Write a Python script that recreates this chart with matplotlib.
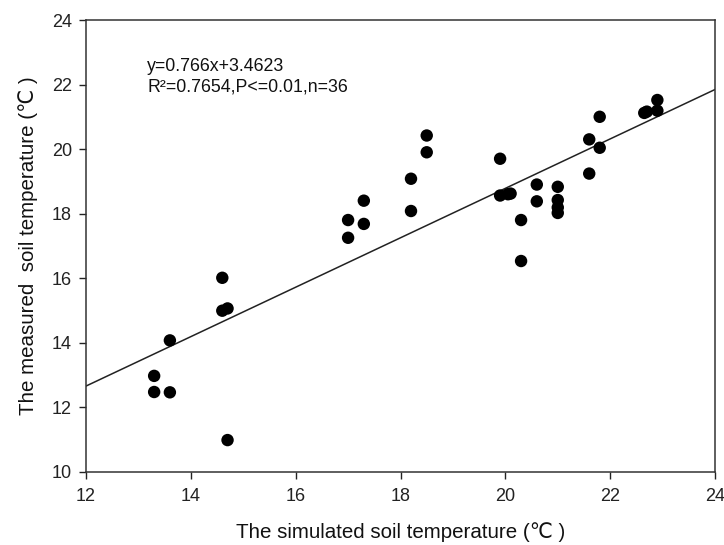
"""Simulated vs measured soil temperature scatter with fitted line."""

import matplotlib
matplotlib.use("Agg")
import matplotlib.pyplot as plt

plt.rcParams["font.family"] = ["Liberation Sans", "DejaVu Sans"]

# simulated (x) vs measured (y) soil temperature
simulated = [13.3, 13.3, 13.6, 13.6, 14.6, 14.6, 14.7, 14.7,
             17.0, 17.0, 17.3, 17.3, 18.2, 18.2, 18.5, 18.5,
             19.9, 19.9, 20.05, 20.1, 20.3, 20.3, 20.6, 20.6,
             21.0, 21.0, 21.0, 21.0, 21.6, 21.6, 21.8, 21.8,
             22.65, 22.7, 22.9, 22.9]
measured = [12.97, 12.47, 12.46, 14.07, 16.01, 14.99, 15.06, 10.98,
            17.8, 17.25, 18.4, 17.68, 19.08, 18.08, 20.42, 19.9,
            19.7, 18.56, 18.6, 18.62, 17.8, 16.53, 18.9, 18.38,
            18.83, 18.42, 18.19, 18.02, 20.3, 19.24, 21.0, 20.04,
            21.12, 21.16, 21.52, 21.19]

slope, intercept = 0.766, 3.4623
fit_x = [12, 24]

x_ticks = [12, 14, 16, 18, 20, 22, 24]
y_ticks = [10, 12, 14, 16, 18, 20, 22, 24]

fig = plt.figure(figsize=(7.24, 5.45), dpi=100)
ax = fig.add_axes([0.1188, 0.1345, 0.8688, 0.8288])

ax.plot(fit_x, [slope * v + intercept for v in fit_x],
        color="#222222", linewidth=1.1, zorder=2)
ax.scatter(simulated, measured, s=80, color="black", edgecolors="none", zorder=3)

ax.set_xlim(12, 24)
ax.set_ylim(10, 24)
ax.set_xticks(x_ticks)
ax.set_yticks(y_ticks)
ax.tick_params(direction="out", length=5, width=1, labelsize=13,
               colors="#222222")
ax.tick_params(axis="x", pad=7)
ax.tick_params(axis="y", pad=5)
for spine in ax.spines.values():
    spine.set_color("#333333")
    spine.set_linewidth(1.1)

ax.set_xlabel("The simulated soil temperature (℃ )", fontsize=14.8,
              labelpad=12, color="#111111")
ax.set_ylabel("The measured  soil temperature (℃ )", fontsize=14.8,
              labelpad=10, color="#111111")

ax.text(0.097, 0.896, "y=0.766x+3.4623", transform=ax.transAxes,
        fontsize=12.8, color="#111111", va="center")
ax.text(0.097, 0.852, "R²=0.7654,P<=0.01,n=36", transform=ax.transAxes,
        fontsize=12.8, color="#111111", va="center")

fig.savefig("out.png", dpi=100, facecolor="white")
plt.close(fig)
